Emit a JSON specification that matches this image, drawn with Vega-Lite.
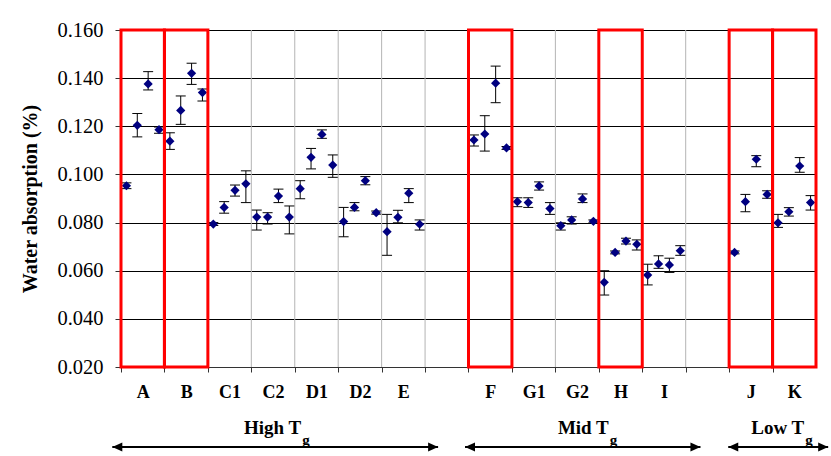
{
  "$schema": "https://vega.github.io/schema/vega-lite/v6.json",
  "width": 695,
  "height": 337,
  "autosize": {"type": "none"},
  "padding": {"left": 121, "top": 30, "right": 15, "bottom": 89},
  "background": "white",
  "config": {
    "font": "Liberation Serif",
    "view": {"stroke": "#808080", "strokeWidth": 1}
  },
  "datasets": {
    "pts": [
      {"cat": "A", "rep": 1, "v": 0.0953, "lo": 0.0941, "hi": 0.0965},
      {"cat": "A", "rep": 2, "v": 0.1204, "lo": 0.1156, "hi": 0.1253},
      {"cat": "A", "rep": 3, "v": 0.1376, "lo": 0.1351, "hi": 0.1427},
      {"cat": "A", "rep": 4, "v": 0.1186, "lo": 0.1171, "hi": 0.1197},
      {"cat": "B", "rep": 1, "v": 0.1138, "lo": 0.1104, "hi": 0.1173},
      {"cat": "B", "rep": 2, "v": 0.1266, "lo": 0.1208, "hi": 0.1326},
      {"cat": "B", "rep": 3, "v": 0.1420, "lo": 0.1374, "hi": 0.1462},
      {"cat": "B", "rep": 4, "v": 0.1340, "lo": 0.1305, "hi": 0.1355},
      {"cat": "C1", "rep": 1, "v": 0.0794, "lo": 0.0788, "hi": 0.0800},
      {"cat": "C1", "rep": 2, "v": 0.0863, "lo": 0.0839, "hi": 0.0887},
      {"cat": "C1", "rep": 3, "v": 0.0934, "lo": 0.0910, "hi": 0.0956},
      {"cat": "C1", "rep": 4, "v": 0.0961, "lo": 0.0883, "hi": 0.1015},
      {"cat": "C2", "rep": 1, "v": 0.0823, "lo": 0.0769, "hi": 0.0852},
      {"cat": "C2", "rep": 2, "v": 0.0823, "lo": 0.0794, "hi": 0.0841},
      {"cat": "C2", "rep": 3, "v": 0.0910, "lo": 0.0883, "hi": 0.0939},
      {"cat": "C2", "rep": 4, "v": 0.0823, "lo": 0.0753, "hi": 0.0869},
      {"cat": "D1", "rep": 1, "v": 0.0941, "lo": 0.0899, "hi": 0.0974},
      {"cat": "D1", "rep": 2, "v": 0.1071, "lo": 0.1023, "hi": 0.1108},
      {"cat": "D1", "rep": 3, "v": 0.1166, "lo": 0.1150, "hi": 0.1185},
      {"cat": "D1", "rep": 4, "v": 0.1039, "lo": 0.0988, "hi": 0.1081},
      {"cat": "D2", "rep": 1, "v": 0.0804, "lo": 0.0741, "hi": 0.0863},
      {"cat": "D2", "rep": 2, "v": 0.0863, "lo": 0.0849, "hi": 0.0883},
      {"cat": "D2", "rep": 3, "v": 0.0974, "lo": 0.0957, "hi": 0.0991},
      {"cat": "D2", "rep": 4, "v": 0.0841, "lo": 0.0835, "hi": 0.0848},
      {"cat": "E", "rep": 1, "v": 0.0762, "lo": 0.0664, "hi": 0.0834},
      {"cat": "E", "rep": 2, "v": 0.0822, "lo": 0.0799, "hi": 0.0851},
      {"cat": "E", "rep": 3, "v": 0.0922, "lo": 0.0883, "hi": 0.0941},
      {"cat": "E", "rep": 4, "v": 0.0793, "lo": 0.0769, "hi": 0.0811},
      {"cat": "F", "rep": 1, "v": 0.1143, "lo": 0.1118, "hi": 0.1164},
      {"cat": "F", "rep": 2, "v": 0.1168, "lo": 0.1097, "hi": 0.1244},
      {"cat": "F", "rep": 3, "v": 0.1379, "lo": 0.1298, "hi": 0.1450},
      {"cat": "F", "rep": 4, "v": 0.1110, "lo": 0.1104, "hi": 0.1116},
      {"cat": "G1", "rep": 1, "v": 0.0887, "lo": 0.0866, "hi": 0.0903},
      {"cat": "G1", "rep": 2, "v": 0.0883, "lo": 0.0863, "hi": 0.0903},
      {"cat": "G1", "rep": 3, "v": 0.0952, "lo": 0.0935, "hi": 0.0969},
      {"cat": "G1", "rep": 4, "v": 0.0858, "lo": 0.0834, "hi": 0.0883},
      {"cat": "G2", "rep": 1, "v": 0.0787, "lo": 0.0769, "hi": 0.0799},
      {"cat": "G2", "rep": 2, "v": 0.0811, "lo": 0.0794, "hi": 0.0824},
      {"cat": "G2", "rep": 3, "v": 0.0898, "lo": 0.0883, "hi": 0.0919},
      {"cat": "G2", "rep": 4, "v": 0.0805, "lo": 0.0799, "hi": 0.0811},
      {"cat": "H", "rep": 1, "v": 0.0552, "lo": 0.0499, "hi": 0.0600},
      {"cat": "H", "rep": 2, "v": 0.0676, "lo": 0.0670, "hi": 0.0682},
      {"cat": "H", "rep": 3, "v": 0.0723, "lo": 0.0711, "hi": 0.0735},
      {"cat": "H", "rep": 4, "v": 0.0710, "lo": 0.0686, "hi": 0.0728},
      {"cat": "I", "rep": 1, "v": 0.0582, "lo": 0.0541, "hi": 0.0627},
      {"cat": "I", "rep": 2, "v": 0.0628, "lo": 0.0610, "hi": 0.0662},
      {"cat": "I", "rep": 3, "v": 0.0624, "lo": 0.0593, "hi": 0.0652},
      {"cat": "I", "rep": 4, "v": 0.0683, "lo": 0.0664, "hi": 0.0704},
      {"cat": "J", "rep": 1, "v": 0.0676, "lo": 0.0670, "hi": 0.0682},
      {"cat": "J", "rep": 2, "v": 0.0887, "lo": 0.0845, "hi": 0.0917},
      {"cat": "J", "rep": 3, "v": 0.1063, "lo": 0.1032, "hi": 0.1078},
      {"cat": "J", "rep": 4, "v": 0.0917, "lo": 0.0901, "hi": 0.0932},
      {"cat": "K", "rep": 1, "v": 0.0799, "lo": 0.0780, "hi": 0.0834},
      {"cat": "K", "rep": 2, "v": 0.0845, "lo": 0.0827, "hi": 0.0862},
      {"cat": "K", "rep": 3, "v": 0.1035, "lo": 0.1009, "hi": 0.1070},
      {"cat": "K", "rep": 4, "v": 0.0883, "lo": 0.0852, "hi": 0.0912}
    ],
    "slots": [
      {"cat": "A"}, {"cat": "B"}, {"cat": "C1"}, {"cat": "C2"}, {"cat": "D1"}, {"cat": "D2"}, {"cat": "E"}, {"cat": " "},
      {"cat": "F"}, {"cat": "G1"}, {"cat": "G2"}, {"cat": "H"}, {"cat": "I"}, {"cat": "  "}, {"cat": "J"}, {"cat": "K"}
    ],
    "boxes": [
      {"cat": "A"}, {"cat": "B"}, {"cat": "F"}, {"cat": "H"}, {"cat": "J"}, {"cat": "K"}
    ],
    "groups": [
      {"label": "High T", "sub": "g", "start": -0.2, "end": 7.3, "mid": 3.55},
      {"label": "Mid T", "sub": "g", "start": 7.92, "end": 13.34, "mid": 10.63},
      {"label": "Low T", "sub": "g", "start": 13.98, "end": 16.28, "mid": 15.13}
    ]
  },
  "resolve": {"scale": {"x": "independent"}},
  "layer": [
    {
      "data": {"name": "pts"},
      "encoding": {
        "x": {
          "field": "cat",
          "type": "nominal",
          "scale": {
            "domain": ["A", "B", "C1", "C2", "D1", "D2", "E", " ", "F", "G1", "G2", "H", "I", "  ", "J", "K"],
            "paddingInner": 0,
            "paddingOuter": 0
          },
          "axis": {
            "orient": "bottom",
            "title": null,
            "labelFontSize": 18,
            "labelFontWeight": "bold",
            "labelColor": "black",
            "labelAngle": 0,
            "labelPadding": 11,
            "labelOffset": 21.72,
            "ticks": true,
            "tickSize": 5,
            "tickOffset": -21.72,
            "tickColor": "#333333",
            "domainColor": "#333333",
            "grid": false
          }
        }
      },
      "layer": [
        {
          "data": {"name": "slots"},
          "mark": {"type": "rule", "color": "#b4b4b4", "strokeWidth": 1},
          "encoding": {
            "x": {"field": "cat", "type": "nominal", "bandPosition": 0},
            "y": {"datum": 0.16},
            "y2": {"datum": 0.02}
          }
        },
        {
          "mark": {"type": "rule", "color": "black", "strokeWidth": 1},
          "encoding": {
            "xOffset": {"field": "rep", "type": "ordinal", "scale": {"paddingInner": 0, "paddingOuter": 0}},
            "y": {
              "field": "lo",
              "type": "quantitative",
              "title": "Water absorption (%)",
              "scale": {"domain": [0.02, 0.16], "nice": false, "zero": false},
              "axis": {
                "orient": "left",
                "tickCount": 7,
                "format": ".3f",
                "labelFontSize": 20.5,
                "labelFontWeight": "normal",
                "labelColor": "black",
                "labelPadding": 12,
                "tickSize": 6,
                "tickColor": "#333333",
                "domainColor": "black",
                "grid": true,
                "gridColor": "black",
                "gridOpacity": 1,
                "titleFontSize": 20,
                "titleFontWeight": "bold",
                "titleColor": "black",
                "titlePadding": 16
              }
            },
            "y2": {"field": "hi"}
          }
        },
        {
          "mark": {"type": "tick", "color": "black", "size": 10, "thickness": 1, "opacity": 1},
          "encoding": {
            "xOffset": {"field": "rep", "type": "ordinal"},
            "y": {"field": "lo", "type": "quantitative", "title": "Water absorption (%)"}
          }
        },
        {
          "mark": {"type": "tick", "color": "black", "size": 10, "thickness": 1, "opacity": 1},
          "encoding": {
            "xOffset": {"field": "rep", "type": "ordinal"},
            "y": {"field": "hi", "type": "quantitative", "title": "Water absorption (%)"}
          }
        },
        {
          "mark": {"type": "point", "shape": "diamond", "filled": true, "color": "#000080", "size": 85, "opacity": 1},
          "encoding": {
            "xOffset": {"field": "rep", "type": "ordinal"},
            "y": {"field": "v", "type": "quantitative", "title": "Water absorption (%)"}
          }
        },
        {
          "data": {"name": "boxes"},
          "mark": {"type": "rect", "filled": false, "stroke": "#ff0000", "strokeWidth": 3},
          "encoding": {
            "y": {"datum": 0.16},
            "y2": {"datum": 0.02}
          }
        }
      ]
    },
    {
      "data": {"name": "groups"},
      "encoding": {
        "x": {"field": "start", "type": "quantitative", "scale": {"domain": [0, 16], "nice": false, "zero": false}, "axis": null}
      },
      "layer": [
        {
          "mark": {"type": "rule", "color": "black", "strokeWidth": 2, "yOffset": 80},
          "encoding": {
            "x2": {"field": "end"},
            "y": {"datum": 0.02}
          }
        },
        {
          "mark": {"type": "point", "shape": "M-1,0L1,-0.9L1,0.9Z", "filled": true, "color": "black", "size": 100, "opacity": 1, "xOffset": 5, "yOffset": 80},
          "encoding": {
            "y": {"datum": 0.02}
          }
        },
        {
          "mark": {"type": "point", "shape": "M1,0L-1,-0.9L-1,0.9Z", "filled": true, "color": "black", "size": 100, "opacity": 1, "xOffset": -5, "yOffset": 80},
          "encoding": {
            "x": {"field": "end", "type": "quantitative"},
            "y": {"datum": 0.02}
          }
        },
        {
          "mark": {"type": "text", "align": "right", "baseline": "alphabetic", "fontSize": 19, "fontWeight": "bold", "color": "black", "dx": 26, "dy": 67},
          "encoding": {
            "x": {"field": "mid", "type": "quantitative"},
            "y": {"datum": 0.02},
            "text": {"field": "label"}
          }
        },
        {
          "mark": {"type": "text", "align": "left", "baseline": "alphabetic", "fontSize": 15, "fontWeight": "bold", "color": "black", "dx": 27, "dy": 78},
          "encoding": {
            "x": {"field": "mid", "type": "quantitative"},
            "y": {"datum": 0.02},
            "text": {"field": "sub"}
          }
        }
      ]
    }
  ]
}
